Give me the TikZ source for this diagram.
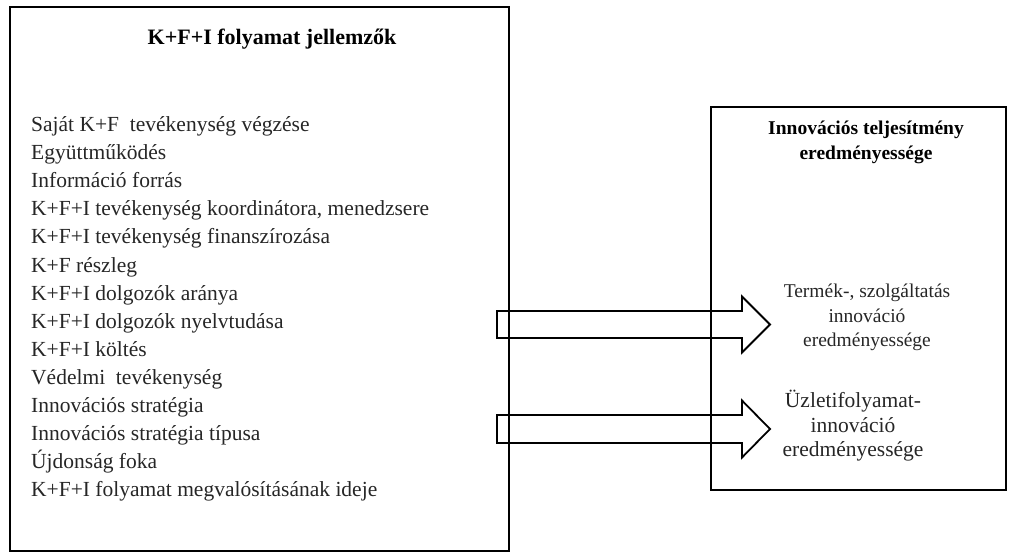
\documentclass[tikz,border=0pt]{standalone}
\usepackage{fontspec}
\setmainfont{Liberation Serif}
\begin{document}
\begin{tikzpicture}[x=1pt,y=-1pt,
  frame/.style={draw=black, line width=2.6pt},
  frame2/.style={draw=black, line width=1.8pt},
  blockarrow/.style={draw=black, line width=1.8pt, line join=miter},
  item/.style={anchor=base west, inner sep=0pt, font=\fontsize{21.5}{24}\selectfont, text=black!85},
  ttl/.style={inner sep=0pt, font=\fontsize{22}{24}\selectfont\bfseries},
  rttl/.style={inner sep=0pt, align=center, font=\fontsize{19.5}{25}\selectfont\bfseries},
  rtxt/.style={inner sep=0pt, align=center, text=black!85}
]
\useasboundingbox (0,0) rectangle (1012,554);
% boxes
\path[frame] (10,7) rectangle (509,551);
\path[frame2] (711,107) rectangle (1006,490);
% left box title
\node[ttl, anchor=base] (ltitle) at (272,44) {K+F+I folyamat jellemzők};
% items
\foreach \t [count=\i] in {
  {Saját K+F\ \ tevékenység végzése},
  {Együttműködés},
  {Információ forrás},
  {K+F+I tevékenység koordinátora, menedzsere},
  {K+F+I tevékenység finanszírozása},
  {K+F részleg},
  {K+F+I dolgozók aránya},
  {K+F+I dolgozók nyelvtudása},
  {K+F+I költés},
  {Védelmi\ \ tevékenység},
  {Innovációs stratégia},
  {Innovációs stratégia típusa},
  {Újdonság foka},
  {K+F+I folyamat megvalósításának ideje}}
  \node[item] (l\i) at (31,{131.5+28.1*(\i-1)}) {\t};
% right box title
\node[rttl] (rtitle) at (866,142) {Innovációs teljesítmény\\eredményessége};
% right texts
\node[rtxt, font=\fontsize{19.5}{24.5}\selectfont] (r1) at (867,317.5)
  {Termék-, szolgáltatás\\innováció\\eredményessége};
\node[rtxt, font=\fontsize{21.5}{24.5}\selectfont] (r2) at (853,426)
  {Üzletifolyamat-\\innováció\\eredményessége};
% block arrows
\coordinate (a1) at (497,324.5);
\coordinate (a2) at (497,429);
\path[blockarrow] (a1) ++(0,-13.5) -- ++(245,0) -- ++(0,-14.5) -- ++(28,28) -- ++(-28,28) -- ++(0,-14.5) -- ++(-245,0) -- cycle;
\path[blockarrow] (a2) ++(0,-14) -- ++(245,0) -- ++(0,-14.5) -- ++(28,28.5) -- ++(-28,28.5) -- ++(0,-14.5) -- ++(-245,0) -- cycle;
\end{tikzpicture}
\end{document}
